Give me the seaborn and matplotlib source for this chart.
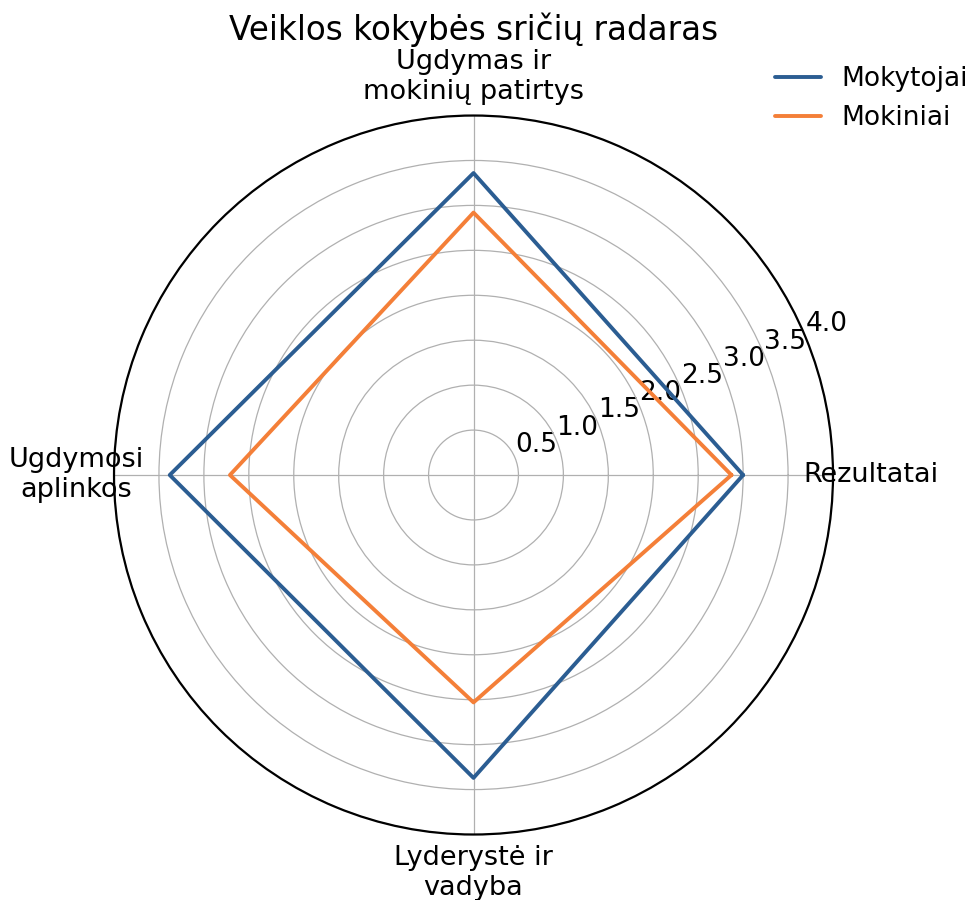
import numpy as np
import pandas as pd
import matplotlib
matplotlib.use("Agg")
import matplotlib.pyplot as plt
import seaborn as sns

categories = ["Rezultatai", "Ugdymas ir\nmokinių patirtys", "Ugdymosi\naplinkos", "Lyderystė ir\nvadyba"]
mokytojai = [3.0, 3.36, 3.38, 3.37]
mokiniai = [2.87, 2.92, 2.71, 2.53]
series_names = ["Mokytojai", "Mokiniai"]
radial_ticks = [0.5, 1.0, 1.5, 2.0, 2.5, 3.0, 3.5, 4.0]
title = "Veiklos kokybės sričių radaras"

sns.set_style("white")
plt.rcParams["font.family"] = ["DejaVu Sans"]
plt.rcParams["text.color"] = "black"
plt.rcParams["xtick.color"] = "black"
plt.rcParams["ytick.color"] = "black"
plt.rcParams["axes.labelcolor"] = "black"

angles = np.linspace(0, 2 * np.pi, len(categories), endpoint=False)
rows = []
for name, vals in zip(series_names, [mokytojai, mokiniai]):
    closed = list(vals) + [vals[0]]
    th = list(angles) + [angles[0] + 2 * np.pi]
    for i, (t, v) in enumerate(zip(th, closed)):
        rows.append({"theta": t, "value": v, "series": name, "order": i})
df = pd.DataFrame(rows)

fig = plt.figure(figsize=(9.72, 9.0), dpi=100)
ax = fig.add_axes([0.1173, 0.0722, 0.7397, 0.8], projection="polar")

sns.lineplot(data=df, x="theta", y="value", hue="series", sort=False,
             palette={"Mokytojai": "#2b5d92", "Mokiniai": "#f47f38"},
             linewidth=2.8, ax=ax, estimator=None, units="series", legend=True)

ax.set_ylim(0, 4.0)
ax.set_yticks(radial_ticks)
ax.set_yticklabels([f"{t:.1f}" for t in radial_ticks], fontsize=19, color="black")
ax.set_rlabel_position(22.5)
ax.set_xticks(angles)
ax.set_xticklabels(categories, fontsize=19.5, color="black")
ax.tick_params(axis="x", pad=17)
ax.set_xlabel("")
ax.set_ylabel("")
ax.grid(True, color="#b0b0b0", linewidth=0.9)
ax.spines["polar"].set_color("black")
ax.spines["polar"].set_linewidth(1.6)
ax.set_facecolor("white")

ax.set_title(title, fontsize=23.5, y=1.105, pad=0, color="black")

handles, labels = ax.get_legend_handles_labels()
ax.get_legend().remove()
leg = fig.legend(handles, labels, loc="upper right", bbox_to_anchor=(1.02, 0.953),
                 frameon=False, fontsize=19, handlelength=1.75, handletextpad=0.75)
for line in leg.get_lines():
    line.set_linewidth(2.8)

fig.savefig("out.png", dpi=100, facecolor="white")
